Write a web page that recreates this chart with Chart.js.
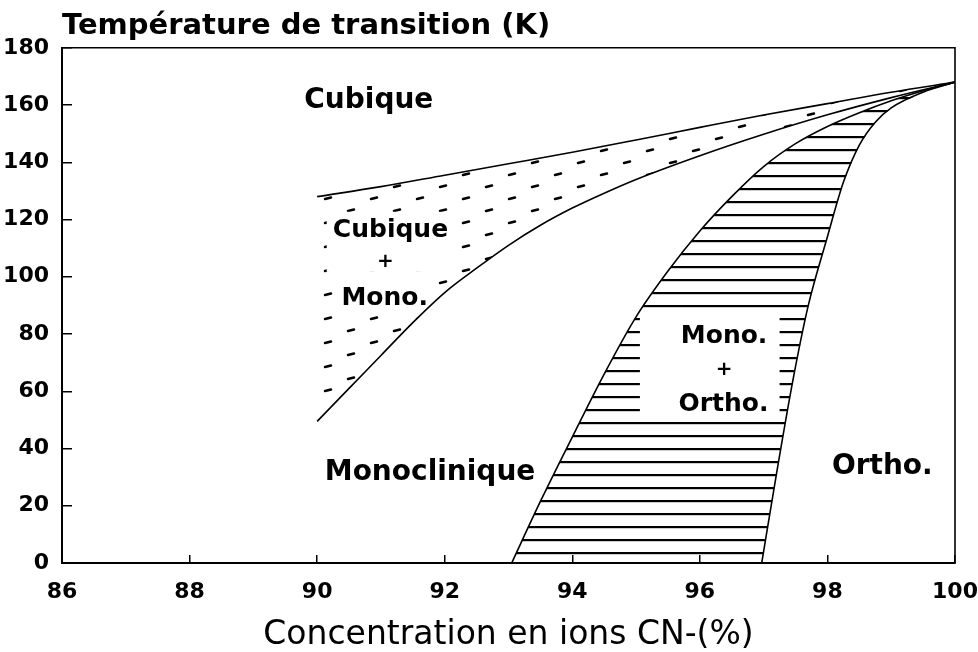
<!DOCTYPE html>
<html>
<head>
<meta charset="utf-8">
<script src="https://cdn.jsdelivr.net/npm/chart.js@4.4.1/dist/chart.umd.min.js"></script>
<style>
  html, body { margin: 0; padding: 0; background: #fff; }
  #c { display: block; }
</style>
</head>
<body>
<canvas id="c" width="978" height="652"></canvas>
<script>
// Phase boundaries: CN- concentration (%) vs transition temperature (K)

// Cubique / (Cubique + Mono.) boundary
const cubicUpperX = [90, 91, 92, 93, 94, 95, 96, 97, 98, 99, 100];
const cubicUpperT = [128, 131.5, 135.5, 139.5, 143.5, 147.8, 152.2, 156.5, 160.5, 164.5, 168];

// (Cubique + Mono.) / Monoclinique boundary
const cubicLowerX = [90, 90.5, 91, 91.5, 92, 92.5, 93, 93.5, 94, 94.5, 95, 96, 97, 98, 99, 100];
const cubicLowerT = [49.5, 61, 72.5, 84, 94.5, 103, 111, 118, 124, 129.2, 134, 142.3, 149.8, 156.6, 162.6, 168];

// Monoclinique / (Mono. + Ortho.) boundary
const orthoLeftX = [93.05, 93.5, 94, 94.5, 95, 95.5, 96, 96.5, 97, 97.5, 98, 98.5, 99, 99.5, 100];
const orthoLeftT = [0, 21.5, 44, 66, 86, 102, 116, 128, 138.5, 146.5, 152.5, 157.3, 161.5, 165, 168];

// (Mono. + Ortho.) / Ortho. boundary
const orthoRightX = [96.97, 97.2, 97.46, 97.7, 98, 98.25, 98.5, 98.75, 99, 99.5, 100];
const orthoRightT = [0, 31, 64, 90, 114, 133, 146, 154, 159, 164.5, 168];

// Axis ticks
const xTicks = [86, 88, 90, 92, 94, 96, 98, 100];
const yTicks = [0, 20, 40, 60, 80, 100, 120, 140, 160, 180];

// Phase names placed in data coordinates
const regionLabels = [
  { text: 'Cubique',      x: 90.81, t: 162.5, size: 28 },
  { text: 'Cubique',      x: 91.15, t: 117.1, size: 25 },
  { text: '+',            x: 91.07, t: 105.9, size: 20 },
  { text: 'Mono.',        x: 91.06, t: 93.3,  size: 25 },
  { text: 'Monoclinique', x: 91.77, t: 32.4,  size: 28 },
  { text: 'Mono.',        x: 96.38, t: 80.0,  size: 25 },
  { text: '+',            x: 96.38, t: 68.2,  size: 20 },
  { text: 'Ortho.',       x: 96.37, t: 56.3,  size: 25 },
  { text: 'Ortho.',       x: 98.86, t: 34.8,  size: 28 }
];

// Areas left unshaded around the two-phase labels
const clearZones = [
  { x0: 90.15, x1: 92.20, t0: 101.7, t1: 122.7 },
  { x0: 90.31, x1: 91.80, t0: 87.3,  t1: 101.7 },
  { x0: 95.06, x1: 97.25, t0: 50.7,  t1: 86.7 }
];

const FONT = '"DejaVu Sans", "Liberation Sans", sans-serif';

function toPoints(xs, ts) { return xs.map((x, i) => ({ x: x, y: ts[i] })); }

// Closed outline of a two-phase domain: one boundary up, the other back down
function domain(xa, ta, xb, tb) {
  return toPoints(xa, ta).concat(toPoints(xb, tb).reverse());
}

function hatchPattern() {
  const c = document.createElement('canvas');
  c.width = 20; c.height = 13;
  const g = c.getContext('2d');
  g.fillStyle = '#000';
  g.fillRect(0, 6, 20, 2.2);
  return g.createPattern(c, 'repeat');
}

function dashPattern() {
  const c = document.createElement('canvas');
  c.width = 46; c.height = 24;
  const g = c.getContext('2d');
  g.strokeStyle = '#000';
  g.lineWidth = 2.5;
  g.lineCap = 'round';
  g.beginPath();
  g.moveTo(3, 7); g.lineTo(9, 5.5);
  g.moveTo(26, 19); g.lineTo(32, 17.5);
  g.stroke();
  return g.createPattern(c, 'repeat');
}

const boundary = (xs, ts) => ({
  data: toPoints(xs, ts),
  showLine: true,
  borderColor: '#000',
  borderWidth: 1.6,
  pointRadius: 0,
  cubicInterpolationMode: 'monotone',
  fill: false
});

const FILL_LAST_DRAWN = 4;

const decor = {
  id: 'decor',
  afterDatasetDraw(chart, args) {
    if (args.index !== FILL_LAST_DRAWN) return;
    const { ctx, chartArea, scales } = chart;
    ctx.save();
    ctx.beginPath();
    ctx.rect(chartArea.left, chartArea.top, chartArea.width, chartArea.height);
    ctx.clip();
    ctx.fillStyle = '#fff';
    clearZones.forEach(z => {
      const x0 = scales.x.getPixelForValue(z.x0), x1 = scales.x.getPixelForValue(z.x1);
      const y0 = scales.y.getPixelForValue(z.t1), y1 = scales.y.getPixelForValue(z.t0);
      ctx.fillRect(x0, y0, x1 - x0, y1 - y0);
    });
    ctx.restore();
  },
  afterDatasetsDraw(chart) {
    const { ctx, scales } = chart;
    ctx.save();
    ctx.fillStyle = '#000';
    ctx.textAlign = 'center';
    ctx.textBaseline = 'alphabetic';
    regionLabels.forEach(l => {
      ctx.font = 'bold ' + l.size + 'px ' + FONT;
      const px = scales.x.getPixelForValue(l.x);
      const py = scales.y.getPixelForValue(l.t) + 0.3645 * l.size;
      ctx.fillText(l.text, px, py);
    });
    ctx.restore();
  },
  afterDraw(chart) {
    const { ctx, chartArea } = chart;
    ctx.save();
    ctx.strokeStyle = '#000';
    ctx.lineWidth = 1.6;
    ctx.beginPath();
    ctx.moveTo(chartArea.left, chartArea.top);
    ctx.lineTo(chartArea.right, chartArea.top);
    ctx.lineTo(chartArea.right, chartArea.bottom);
    ctx.stroke();
    ctx.restore();
  }
};

new Chart(document.getElementById('c'), {
  type: 'scatter',
  data: {
    datasets: [
      boundary(cubicUpperX, cubicUpperT),
      boundary(cubicLowerX, cubicLowerT),
      boundary(orthoLeftX, orthoLeftT),
      boundary(orthoRightX, orthoRightT),
      {
        data: domain(cubicUpperX, cubicUpperT, cubicLowerX, cubicLowerT),
        showLine: true,
        borderWidth: 0,
        borderColor: 'rgba(0,0,0,0)',
        pointRadius: 0,
        tension: 0,
        fill: 'shape',
        backgroundColor: dashPattern()
      },
      {
        data: domain(orthoLeftX, orthoLeftT, orthoRightX, orthoRightT),
        showLine: true,
        borderWidth: 0,
        borderColor: 'rgba(0,0,0,0)',
        pointRadius: 0,
        tension: 0,
        fill: 'shape',
        backgroundColor: hatchPattern()
      }
    ]
  },
  options: {
    responsive: false,
    animation: false,
    devicePixelRatio: 1,
    layout: { padding: 0 },
    plugins: {
      legend: { display: false },
      tooltip: { enabled: false },
      title: {
        display: true,
        text: 'Température de transition (K)',
        align: 'start',
        fullSize: false,
        color: '#000',
        font: { family: FONT, size: 29, weight: 'bold' },
        padding: { top: 9, bottom: 4 }
      }
    },
    scales: {
      x: {
        type: 'linear',
        min: xTicks[0],
        max: xTicks[xTicks.length - 1],
        afterBuildTicks(s) { s.ticks = xTicks.map(v => ({ value: v })); },
        afterFit(s) { s.height = 89; s.paddingLeft = 0; s.paddingRight = 23; },
        ticks: {
          color: '#000',
          padding: 24,
          font: { family: FONT, size: 22, weight: 'bold' }
        },
        grid: { drawOnChartArea: false, tickLength: -8, color: '#000', lineWidth: 1.5 },
        border: { color: '#000', width: 2 },
        title: {
          display: true,
          text: 'Concentration en ions CN-(%)',
          color: '#000',
          font: { family: FONT, size: 33, lineHeight: 1.0 },
          padding: 0
        }
      },
      y: {
        type: 'linear',
        min: yTicks[0],
        max: yTicks[yTicks.length - 1],
        afterBuildTicks(s) { s.ticks = yTicks.map(v => ({ value: v })); },
        afterFit(s) { s.width = 62; },
        ticks: {
          color: '#000',
          padding: 23,
          font: { family: FONT, size: 22, weight: 'bold' }
        },
        grid: { drawOnChartArea: false, tickLength: -10, color: '#000', lineWidth: 1.5 },
        border: { color: '#000', width: 2 }
      }
    }
  },
  plugins: [decor]
});
</script>
</body>
</html>
